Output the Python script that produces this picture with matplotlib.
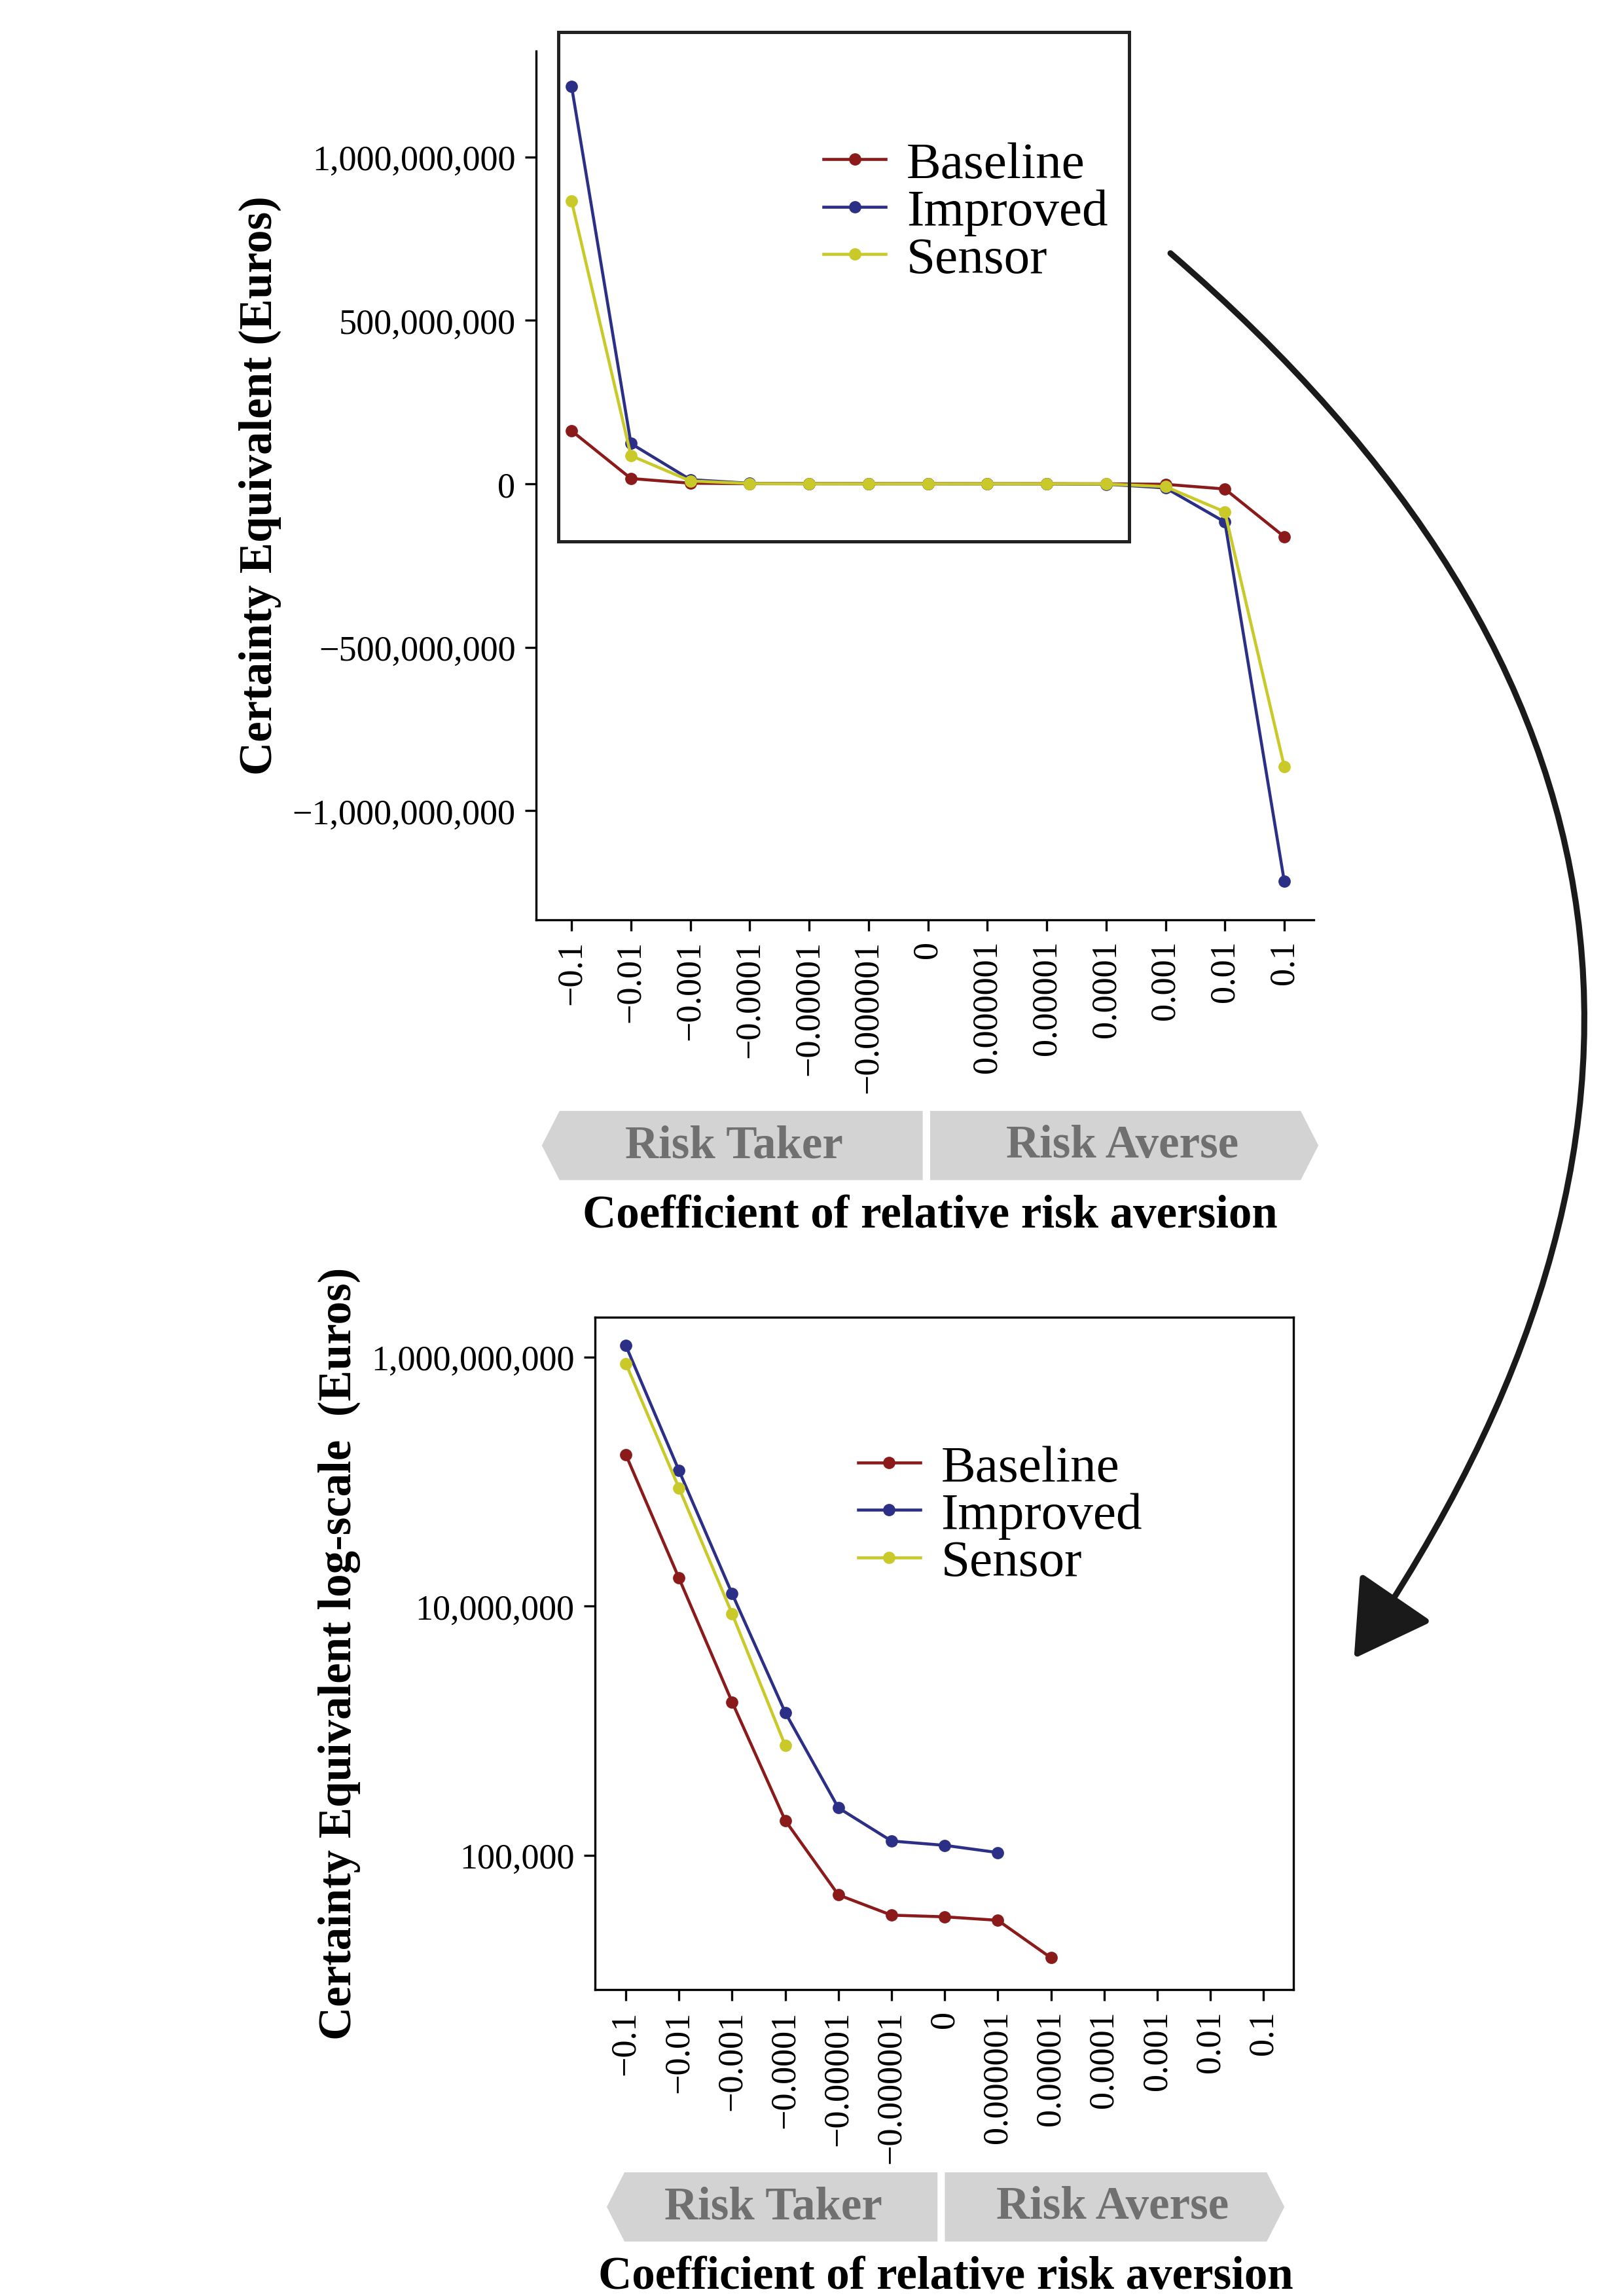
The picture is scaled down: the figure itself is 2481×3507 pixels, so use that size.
import numpy as np
import matplotlib.pyplot as plt
from matplotlib.patches import Polygon, Rectangle, FancyArrowPatch

plt.rcParams['font.family'] = ['Liberation Serif', 'DejaVu Serif']

x_labels = ["\u22120.1", "\u22120.01", "\u22120.001", "\u22120.0001", "\u22120.00001", "\u22120.000001",
            "0", "0.000001", "0.00001", "0.0001", "0.001", "0.01", "0.1"]

# linear panel (Euros)
baseline = [162e6, 16e6, 1.7e6, 1.9e5, 4.8e4, 3.3e4, 0, -3.3e4, -4.8e4, -1.9e5, -1.7e6, -16e6, -162e6]
improved = [1.216e9, 123e6, 12.6e6, 1.4e6, 2.4e5, 1.3e5, 0, -1.3e5, -2.4e5, -1.4e6, -12.6e6, -117e6, -1.216e9]
sensor = [865e6, 86e6, 8.7e6, 7.6e5, 0, 0, 0, 0, 0, -7.6e5, -8.7e6, -86e6, -865e6]

# log panel (only positive values shown)
nan = np.nan
baseline_log = [1.65e8, 1.68e7, 1.7e6, 1.9e5, 4.8e4, 3.3e4, 3.2e4, 3.0e4, 1.5e4, nan, nan, nan, nan]
improved_log = [1.24e9, 1.23e8, 1.26e7, 1.4e6, 2.4e5, 1.3e5, 1.2e5, 1.05e5, nan, nan, nan, nan, nan]
sensor_log = [8.9e8, 8.9e7, 8.7e6, 7.6e5, nan, nan, nan, nan, nan, nan, nan, nan, nan]

series = ["Baseline", "Improved", "Sensor"]
colors = ["#8B1A1A", "#2B2F86", "#C9C92A"]

W, H = 1100.0, 1560.0
def fx(x):
    return x / W
def fy(y):
    return 1 - y / H

fig = plt.figure(figsize=(8.27, 11.693), dpi=300)
xs = np.arange(len(x_labels))


def style_axis(ax):
    ax.set_xticks(xs)
    ax.set_xticklabels(x_labels, rotation=90, fontsize=13, va="top", ha="center")
    ax.tick_params(axis="y", labelsize=13)
    ax.tick_params(length=4)


def add_legend(ax, anchor):
    leg = ax.legend(loc="upper left", bbox_to_anchor=anchor, frameon=False, fontsize=19,
                    handlelength=1.2, handletextpad=0.4, labelspacing=0.0)
    return leg


# top panel
ax1 = fig.add_axes([fx(363), fy(625), fx(890) - fx(363), fy(35) - fy(625)])
for name, vals, c in zip(series, [baseline, improved, sensor], colors):
    ax1.plot(xs, vals, color=c, marker="o", markersize=3.5, linewidth=1.1, label=name)
ax1.set_xlim(-0.6, 12.5)
ax1.set_ylim(-1.333e9, 1.324e9)
ax1.set_yticks([-1e9, -5e8, 0, 5e8, 1e9])
ax1.set_yticklabels(["\u22121,000,000,000", "\u2212500,000,000", "0", "500,000,000", "1,000,000,000"])
ax1.spines["top"].set_visible(False)
ax1.spines["right"].set_visible(False)
style_axis(ax1)
ax1.set_ylabel("Certainty Equivalent (Euros)", fontsize=17, fontweight="bold")
add_legend(ax1, (0.31, 0.95))

# bottom panel
ax2 = fig.add_axes([fx(403), fy(1352), fx(876) - fx(403), fy(895) - fy(1352)])
for name, vals, c in zip(series, [baseline_log, improved_log, sensor_log], colors):
    ax2.plot(xs, vals, color=c, marker="o", markersize=3.5, linewidth=1.1, label=name)
ax2.set_yscale("log")
ax2.set_xlim(-0.58, 12.56)
ax2.set_ylim(8.3e3, 2.1e9)
ax2.set_yticks([1e5, 1e7, 1e9])
ax2.set_yticklabels(["100,000", "10,000,000", "1,000,000,000"])
ax2.minorticks_off()
style_axis(ax2)
ax2.set_ylabel("Certainty Equivalent log-scale  (Euros)", fontsize=17, fontweight="bold")
add_legend(ax2, (0.31, 0.88))

# zoom box on top panel
fig.patches.append(Rectangle((fx(378), fy(368)), fx(765) - fx(378), fy(22) - fy(368),
                             transform=fig.transFigure, fill=False, edgecolor="#222222", linewidth=1.2))

# curved arrow
fig.patches.append(FancyArrowPatch((fx(790), fy(170)), (fx(915), fy(1130)), transform=fig.transFigure,
                                   connectionstyle="arc3,rad=-0.45", arrowstyle="-|>,head_length=12,head_width=7",
                                   color="#1a1a1a", linewidth=2.2, mutation_scale=2))


def banners(y0, y1, x0, xm, x1, label_y):
    g = "#D3D3D3"
    h = (y1 - y0) / 2
    tip = 12
    left = [(x0 + tip, y0), (xm - 2, y0), (xm - 2, y1), (x0 + tip, y1), (x0, y0 + h)]
    right = [(xm + 3, y0), (x1 - tip, y0), (x1, y0 + h), (x1 - tip, y1), (xm + 3, y1)]
    for pts in (left, right):
        fig.patches.append(Polygon([(fx(a), fy(b)) for a, b in pts], closed=True,
                                   transform=fig.transFigure, facecolor=g, edgecolor="none"))
    fig.text(fx((x0 + xm) / 2), fy(y0 + h), "Risk Taker", ha="center", va="center",
             fontsize=17, fontweight="bold", color="#707070")
    fig.text(fx((xm + x1) / 2), fy(y0 + h), "Risk Averse", ha="center", va="center",
             fontsize=17, fontweight="bold", color="#707070")
    fig.text(fx((x0 + x1) / 2), fy(label_y), "Coefficient of relative risk aversion",
             ha="center", va="center", fontsize=17, fontweight="bold")


banners(755, 802, 367, 627, 893, 826)
banners(1476, 1523, 411, 637, 870, 1547)

fig.savefig("out.png", dpi=300, facecolor="white")
